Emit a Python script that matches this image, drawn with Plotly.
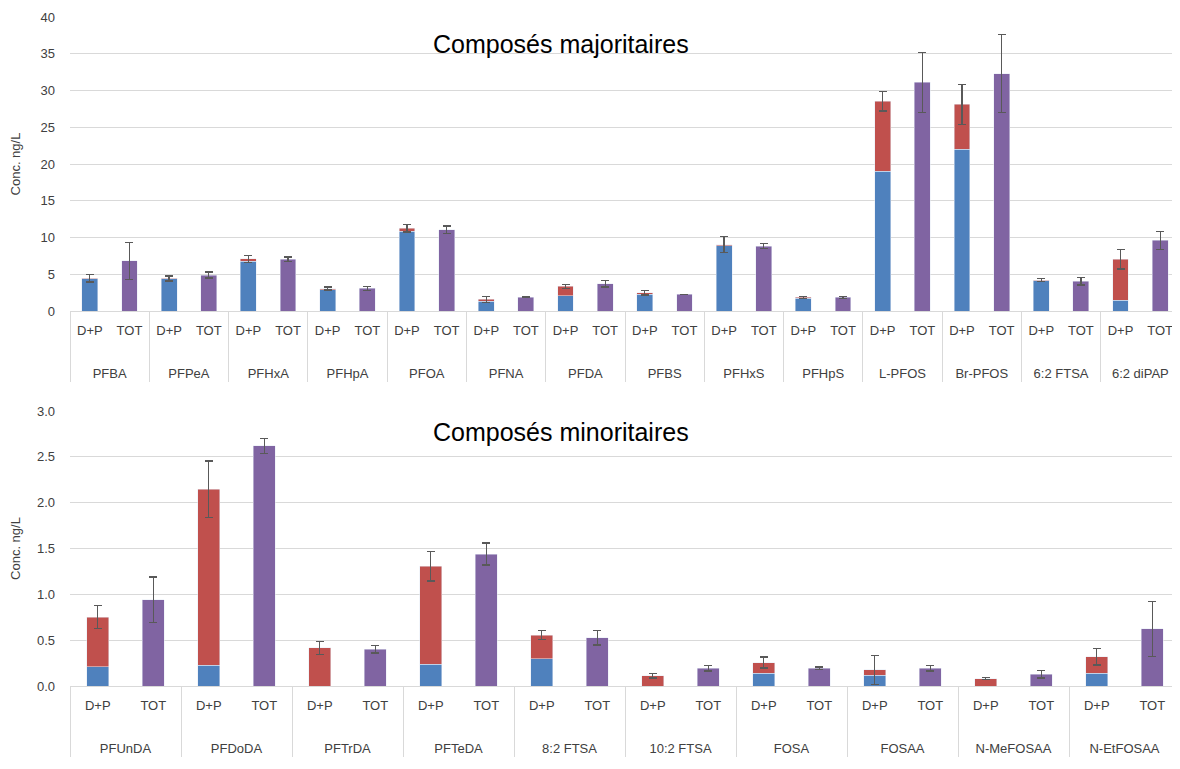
import plotly.graph_objects as go

# Composés majoritaires
maj_names = ["PFBA", "PFPeA", "PFHxA", "PFHpA", "PFOA", "PFNA", "PFDA", "PFBS",
             "PFHxS", "PFHpS", "L-PFOS", "Br-PFOS", "6:2 FTSA", "6:2 diPAP"]
maj_blue = [4.4, 4.4, 6.8, 2.9, 10.85, 1.3, 2.1, 2.3, 8.85, 1.75, 19.0, 22.0, 4.1, 1.45]
maj_red = [0.03, 0.03, 0.3, 0.15, 0.4, 0.3, 1.25, 0.2, 0.2, 0.1, 9.55, 6.1, 0.1, 5.6]
maj_dp_err = [0.5, 0.35, 0.5, 0.2, 0.5, 0.4, 0.25, 0.3, 1.1, 0.1, 1.35, 2.7, 0.2, 1.35]
maj_tot = [6.83, 4.89, 7.06, 3.07, 11.05, 1.9, 3.7, 2.26, 8.83, 1.85, 31.1, 32.3, 4.03, 9.6]
maj_tot_err = [2.5, 0.4, 0.3, 0.3, 0.5, 0.1, 0.45, 0.03, 0.35, 0.15, 4.1, 5.3, 0.5, 1.2]

# Composés minoritaires
min_names = ["PFUnDA", "PFDoDA", "PFTrDA", "PFTeDA", "8:2 FTSA", "10:2 FTSA",
             "FOSA", "FOSAA", "N-MeFOSAA", "N-EtFOSAA"]
min_blue = [0.21, 0.225, 0.0, 0.24, 0.30, 0.0, 0.14, 0.12, 0.0, 0.14]
min_red = [0.54, 1.92, 0.415, 1.065, 0.255, 0.113, 0.115, 0.055, 0.08, 0.18]
min_dp_err = [0.125, 0.31, 0.07, 0.16, 0.05, 0.025, 0.06, 0.155, 0.01, 0.09]
min_tot = [0.94, 2.62, 0.40, 1.44, 0.527, 0.193, 0.193, 0.193, 0.127, 0.622]
min_tot_err = [0.25, 0.08, 0.04, 0.12, 0.08, 0.03, 0.015, 0.03, 0.04, 0.3]

BLUE = "#4F81BD"
RED = "#C0504D"
PURPLE = "#8064A2"
GRID = "#D9D9D9"
TXT = "#404040"
FONT = "Liberation Sans"

fig = go.Figure()


def add_panel(names, blue, red, dp_err, tot, tot_err, xa, ya):
    # leading line breaks drop the compound names below the D+P / TOT row
    outer = ["<br><br>" + n for n in names]
    dp_x = [outer, ["D+P"] * len(names)]
    tot_x = [outer, ["TOT"] * len(names)]
    err_style = dict(type="data", visible=True, color="#595959", thickness=1.3, width=4)
    fig.add_trace(go.Bar(x=dp_x, y=blue, marker_color=BLUE, xaxis=xa, yaxis=ya,
                         showlegend=False))
    fig.add_trace(go.Bar(x=dp_x, y=red, marker_color=RED, xaxis=xa, yaxis=ya,
                         error_y=dict(array=dp_err, **err_style), showlegend=False))
    fig.add_trace(go.Bar(x=tot_x, y=tot, marker_color=PURPLE, xaxis=xa, yaxis=ya,
                         error_y=dict(array=tot_err, **err_style), showlegend=False))


add_panel(maj_names, maj_blue, maj_red, maj_dp_err, maj_tot, maj_tot_err, "x", "y")
add_panel(min_names, min_blue, min_red, min_dp_err, min_tot, min_tot_err, "x2", "y2")

xstyle = dict(type="multicategory", showline=True, linecolor=GRID, linewidth=1,
              showdividers=True, dividercolor=GRID, dividerwidth=1,
              tickfont=dict(size=13, color=TXT, family=FONT), ticks="",
              ticklabelstandoff=7, showgrid=False, automargin=False)
ystyle = dict(showgrid=True, gridcolor=GRID, gridwidth=1, zeroline=False,
              tickfont=dict(size=13, color=TXT, family=FONT), ticks="",
              ticklabelstandoff=14, automargin=False,
              title=dict(text="Conc. ng/L", font=dict(size=13, color=TXT, family=FONT),
                         standoff=18))

# the page body adds 8 px around the figure, so the figure is 8 px smaller
fig.update_layout(
    barmode="stack",
    bargap=0.6,
    width=1172,
    height=761,
    paper_bgcolor="white",
    plot_bgcolor="white",
    margin=dict(l=62, r=0, t=9, b=83),
    xaxis=dict(domain=[0, 1], anchor="y", **xstyle),
    yaxis=dict(domain=[0.5605, 1], anchor="x", range=[0, 40], dtick=5, **ystyle),
    xaxis2=dict(domain=[0, 1], anchor="y2", **xstyle),
    yaxis2=dict(domain=[0, 0.411], anchor="x2", range=[0, 3], dtick=0.5,
                tickformat=".1f", **ystyle),
    annotations=[
        dict(text="Composés majoritaires", x=0.442, y=36.3, xref="paper", yref="y",
             showarrow=False, font=dict(size=25, color="black", family=FONT)),
        dict(text="Composés minoritaires", x=0.442, y=2.77, xref="paper", yref="y2",
             showarrow=False, font=dict(size=25, color="black", family=FONT)),
    ],
)

fig.write_html("out.html")
